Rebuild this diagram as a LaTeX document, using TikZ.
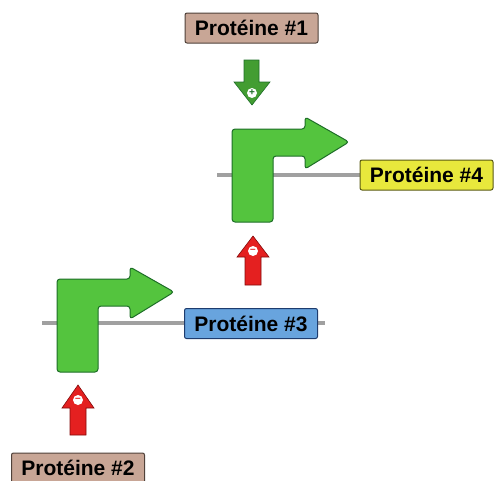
\documentclass[tikz,border=0pt]{standalone}
\usepackage{fontspec}
\setmainfont{Liberation Sans}
\usetikzlibrary{backgrounds}
\definecolor{gfill}{RGB}{84,196,62}
\definecolor{gedge}{RGB}{30,110,40}
\definecolor{rfill}{RGB}{228,32,32}
\definecolor{redge}{RGB}{130,10,10}
\definecolor{tanfill}{RGB}{200,166,150}
\definecolor{tanedge}{RGB}{80,66,58}
\definecolor{yelfill}{RGB}{232,232,60}
\definecolor{yeledge}{RGB}{90,90,20}
\definecolor{blufill}{RGB}{104,164,222}
\definecolor{bluedge}{RGB}{30,60,110}
\definecolor{gline}{RGB}{160,160,160}
\tikzset{
  prot/.style={draw=#1edge, fill=#1fill, line width=1pt, rounded corners=2pt,
    minimum width=133pt, minimum height=30pt, inner sep=0pt,
    font=\fontsize{21}{22}\selectfont\bfseries},
  bent/.style={fill=gfill, draw=gedge, line width=1pt, rounded corners=3pt},
  dna/.style={draw=gline, line width=4pt},
  smallg/.style={fill=gfill!80!black, draw=gedge, line width=0.6pt},
  smallr/.style={fill=rfill, draw=redge, line width=0.6pt},
  badge/.style={circle, fill=white, draw=none, minimum size=10pt, inner sep=0pt,
    font=\fontsize{10}{10}\selectfont\bfseries}
}
\begin{document}
\begin{tikzpicture}[x=1pt,y=-1pt]
\useasboundingbox (0,0) rectangle (494,480);
% bent arrows (promoters)
\foreach \ox/\oy in {232/129, 57/279}{
  \begin{scope}[shift={(\ox,\oy)}]
    \draw[bent] (0,93) -- (0,0) -- (73,0) -- (73,-12) -- (117,13) -- (73,40) -- (73,27) -- (41,27) -- (41,93) -- cycle;
  \end{scope}
}
% protein boxes
\node[prot=tan] (p1) at (251.5,28) {Protéine \#1};
\node[prot=tan] (p2) at (78,468) {Protéine \#2};
\node[prot=blu] (p3) at (251,323.5) {Protéine \#3};
\node[prot=yel] (p4) at (426.5,175) {Protéine \#4};
% DNA lines behind everything
\coordinate (l4a) at (217,175);
\coordinate (l3a) at (42,323);
\coordinate (l3b) at (325,323);
\begin{scope}[on background layer]
\draw[dna] (l4a) -- (p4.west);
\draw[dna] (l3a) -- (l3b);
\end{scope}
% green activating arrow
\draw[smallg] (244,60) -- (259,60) -- (259,82) -- (270,82) -- (252,105) -- (234,82) -- (244,82) -- cycle;
\node[badge, text=gedge] (plus) at (252,93) {+};
% red repressing arrows
\draw[smallr] (245,285) -- (245,257) -- (237,257) -- (253,236) -- (269,257) -- (261,257) -- (261,285) -- cycle;
\node[badge, text=rfill] (m1) at (253,251) {--};
\draw[smallr] (70,435) -- (70,408) -- (62,408) -- (78,385) -- (94,408) -- (86,408) -- (86,435) -- cycle;
\node[badge, text=rfill] (m2) at (78,400) {--};
\end{tikzpicture}
\end{document}
